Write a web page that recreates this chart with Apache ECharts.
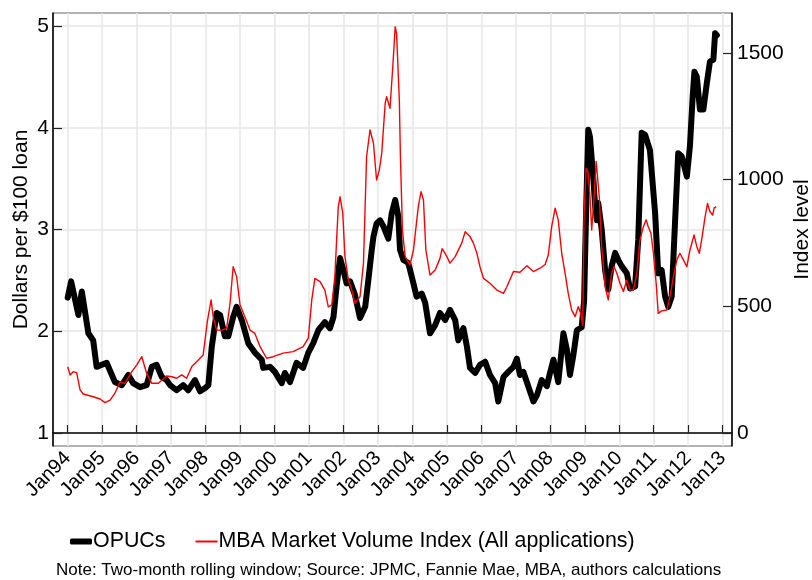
<!DOCTYPE html>
<html><head><meta charset="utf-8">
<script src="https://cdn.jsdelivr.net/npm/echarts@6/dist/echarts.min.js"></script>
<style>html,body{margin:0;padding:0;background:#fff}#c{width:812px;height:580px}</style>
</head><body><div id="c"></div>
<script>
const xTickYears = [1994,1995,1996,1997,1998,1999,2000,2001,2002,2003,2004,2005,2006,2007,2008,2009,2010,2011,2012,2013];
const leftTicks = [1,2,3,4,5];
const rightTicks = [0,500,1000,1500];

const opucsTime = [1994.00,1994.10,1994.31,1994.41,1994.60,1994.74,1994.84,
1995.13,1995.37,1995.57,1995.76,1995.90,
1996.10,1996.29,1996.44,1996.58,1996.73,1996.87,1996.97,
1997.16,1997.35,1997.50,1997.69,1997.84,1997.98,
1998.08,1998.18,1998.32,1998.42,1998.56,1998.66,1998.80,1998.90,
1999.05,1999.24,1999.43,1999.63,1999.67,1999.87,
2000.01,2000.21,2000.30,2000.45,2000.64,2000.83,2000.98,
2001.12,2001.27,2001.46,2001.61,2001.71,2001.80,2001.90,
2002.00,2002.09,2002.19,2002.33,2002.48,2002.63,2002.72,2002.82,2002.87,2002.96,
2003.06,2003.16,2003.30,2003.40,2003.50,2003.59,2003.64,2003.74,2003.88,
2004.03,2004.12,2004.27,2004.37,2004.51,2004.66,2004.80,2004.95,
2005.09,2005.24,2005.33,2005.48,2005.58,2005.67,2005.82,2005.96,
2006.11,2006.25,2006.40,2006.49,2006.64,2006.78,2006.93,
2007.03,2007.12,2007.22,2007.36,2007.51,2007.61,2007.75,2007.90,2007.99,
2008.09,2008.23,2008.38,2008.48,2008.57,2008.67,2008.77,2008.91,2008.98,
2009.04,2009.10,2009.15,2009.25,2009.30,2009.35,2009.39,2009.49,2009.59,2009.68,2009.78,2009.88,2009.97,
2010.07,2010.22,2010.31,2010.46,2010.55,2010.65,2010.75,2010.89,
2011.04,2011.13,2011.23,2011.33,2011.42,2011.52,2011.62,2011.71,2011.81,2011.96,
2012.05,2012.13,2012.18,2012.25,2012.34,2012.44,2012.54,2012.63,2012.73,2012.78,2012.83];
const opucsValue = [2.33,2.49,2.16,2.39,1.98,1.91,1.65,
1.69,1.50,1.47,1.57,1.49,
1.45,1.47,1.65,1.67,1.55,1.52,1.47,
1.42,1.47,1.42,1.52,1.41,1.44,
1.47,1.85,2.18,2.16,1.95,1.95,2.14,2.24,
2.11,1.88,1.79,1.72,1.64,1.65,
1.60,1.49,1.59,1.50,1.69,1.64,1.79,
1.88,2.01,2.09,2.03,2.14,2.44,2.72,
2.60,2.47,2.49,2.36,2.13,2.24,2.50,2.80,2.93,3.06,
3.09,3.03,2.91,3.16,3.29,3.13,2.80,2.70,2.67,
2.47,2.34,2.37,2.28,1.98,2.06,2.18,2.11,
2.21,2.11,1.91,2.03,1.85,1.64,1.59,1.67,
1.70,1.57,1.49,1.31,1.55,1.60,1.65,
1.73,1.57,1.60,1.46,1.31,1.37,1.52,1.46,1.59,
1.72,1.50,1.98,1.82,1.57,1.77,2.01,2.04,2.30,
3.20,3.98,3.91,3.49,3.23,3.09,3.26,3.00,2.60,2.41,2.64,2.77,2.70,
2.64,2.57,2.42,2.44,2.90,3.95,3.93,3.78,
3.16,2.57,2.60,2.34,2.24,2.34,3.09,3.75,3.72,3.52,
3.82,4.31,4.55,4.50,4.18,4.18,4.44,4.65,4.67,4.93,4.91];

const mbaTime = [1994.00,1994.07,1994.16,1994.26,1994.36,1994.45,1994.74,1994.94,
1995.08,1995.23,1995.37,1995.52,1995.66,1995.86,
1996.00,1996.15,1996.29,1996.44,1996.63,1996.87,
1997.02,1997.16,1997.31,1997.45,1997.60,1997.79,1997.93,
1998.05,1998.16,1998.22,1998.32,1998.47,1998.61,1998.71,1998.80,1998.90,
1999.00,1999.14,1999.29,1999.43,1999.58,1999.77,1999.96,
2000.25,2000.54,2000.83,2000.98,
2001.08,2001.17,2001.32,2001.46,2001.56,2001.66,2001.75,2001.80,2001.85,2001.90,2001.98,
2002.04,2002.14,2002.24,2002.33,2002.48,2002.58,2002.67,2002.77,2002.87,2002.96,
2003.04,2003.11,2003.21,2003.25,2003.35,2003.43,2003.50,2003.54,2003.62,2003.65,2003.71,2003.79,2003.93,
2004.03,2004.17,2004.25,2004.32,2004.39,2004.51,2004.66,2004.80,2004.86,2004.95,
2005.09,2005.24,2005.43,2005.53,2005.58,2005.67,2005.77,2005.87,2005.96,
2006.06,2006.25,2006.45,2006.64,2006.74,2006.93,
2007.12,2007.32,2007.51,2007.70,2007.85,2007.94,
2008.04,2008.14,2008.23,2008.33,2008.43,2008.52,2008.62,2008.72,2008.81,2008.88,2008.94,2008.98,
2009.04,2009.10,2009.15,2009.20,2009.27,2009.33,2009.36,2009.42,2009.49,2009.59,2009.68,2009.78,2009.85,2009.93,
2010.02,2010.12,2010.22,2010.31,2010.41,2010.51,2010.60,2010.70,2010.78,2010.84,2010.92,2010.99,
2011.07,2011.13,2011.23,2011.38,2011.47,2011.57,2011.67,2011.76,2011.86,2011.96,
2012.05,2012.17,2012.25,2012.32,2012.39,2012.49,2012.56,2012.63,2012.71,2012.75,2012.81];
const mbaValue = [262,229,242,238,170,154,143,134,
120,130,157,202,196,242,
268,301,236,196,196,225,
222,216,229,216,262,288,308,
439,525,459,406,406,413,512,656,617,
505,459,406,393,341,295,301,
315,321,341,374,
525,610,597,564,498,505,617,760,893,932,867,
700,604,564,512,538,670,1090,1196,1143,998,
1038,1104,1301,1327,1281,1445,1603,1577,1314,1100,800,696,663,
722,893,952,919,722,623,643,689,727,709,
670,696,749,794,801,775,749,709,656,
610,591,564,551,577,637,
634,660,637,650,665,702,
814,887,841,709,630,551,485,459,498,472,425,867,
1045,1025,932,801,932,1071,1077,932,735,577,525,630,656,630,
591,558,604,564,564,630,762,814,841,814,788,709,
591,472,482,485,538,617,683,709,683,656,
722,781,735,709,762,854,906,873,860,887,893];

const FONT = "'Liberation Sans', Arial, Helvetica, sans-serif";
const opucsData = opucsTime.map((t, i) => [t, opucsValue[i]]);
const mbaData = mbaTime.map((t, i) => [t, mbaValue[i]]);

const chart = echarts.init(document.getElementById('c'), null, {renderer: 'canvas'});
chart.setOption({
  animation: false,
  backgroundColor: '#ffffff',
  textStyle: {fontFamily: FONT},
  title: {
    text: 'Note: Two-month rolling window; Source: JPMC, Fannie Mae, MBA, authors calculations',
    left: 56, top: 562, padding: 0,
    textStyle: {fontSize: 17, fontWeight: 'normal', color: '#000', fontFamily: FONT}
  },
  legend: {
    left: 65, top: 526, itemGap: 30, itemWidth: 22, itemHeight: 6,
    textStyle: {fontSize: 21.4, color: '#000', fontFamily: FONT, padding: [0, 0, 0, -4]},
    data: [
      {name: 'OPUCs', icon: 'roundRect', itemStyle: {color: '#000'}},
      {name: 'MBA Market Volume Index (All applications)', icon: 'path://M0,0 H18 V1.6 H0 Z', itemStyle: {color: '#ff0000'}}
    ]
  },
  grid: {left: 53, right: 80, top: 13, bottom: 134, containLabel: false, outerBoundsMode: 'none',
    show: true, borderColor: '#666', borderWidth: 1, backgroundColor: 'transparent'},
  xAxis: {
    type: 'value', min: 1993.574, max: 2013.27,
    axisLine: {lineStyle: {color: '#000', width: 1.5}},
    axisTick: {inside: true, length: 8, lineStyle: {color: '#222', width: 1.2}, customValues: xTickYears},
    axisLabel: {customValues: xTickYears, rotate: 45, margin: 9, fontSize: 20, color: '#000', fontFamily: FONT,
      formatter: v => 'Jan' + String(Math.round(v)).slice(2)},
    splitLine: {show: true, lineStyle: {color: '#e6e6e6', width: 1.5}}
  },
  yAxis: [
    {
      type: 'value', min: 0.872, max: 5.128, position: 'left',
      name: 'Dollars per $100 loan', nameLocation: 'middle', nameGap: 21, nameRotate: 90,
      nameMoveOverlap: false,
      nameTextStyle: {fontSize: 21, color: '#000', fontFamily: FONT},
      axisLine: {show: true, lineStyle: {color: '#000', width: 1.5}},
      axisTick: {show: true, inside: true, length: 9, lineStyle: {color: '#222', width: 1.2}, customValues: leftTicks},
      axisLabel: {customValues: leftTicks, margin: 4, fontSize: 21, color: '#000', fontFamily: FONT,
        formatter: v => String(v)},
      splitLine: {show: true, lineStyle: {color: '#e6e6e6', width: 1.5}}
    },
    {
      type: 'value', min: -51.3, max: 1657, position: 'right',
      name: 'Index level', nameLocation: 'middle', nameGap: 60, nameRotate: 90,
      nameMoveOverlap: false,
      nameTextStyle: {fontSize: 21, color: '#000', fontFamily: FONT},
      axisLine: {show: true, lineStyle: {color: '#000', width: 1.5}},
      axisTick: {show: true, inside: true, length: 9, lineStyle: {color: '#222', width: 1.2}, customValues: rightTicks},
      axisLabel: {customValues: rightTicks, margin: 5, fontSize: 21, color: '#000', fontFamily: FONT,
        formatter: v => String(Math.round(v))},
      splitLine: {show: false}
    }
  ],
  series: [
    {
      name: 'OPUCs', type: 'line', yAxisIndex: 0, data: opucsData,
      showSymbol: false, symbol: 'none', smooth: false,
      lineStyle: {color: '#000', width: 6, cap: 'round', join: 'round'},
      itemStyle: {color: '#000'}, z: 2
    },
    {
      name: 'MBA Market Volume Index (All applications)', type: 'line', yAxisIndex: 1, data: mbaData,
      showSymbol: false, symbol: 'none',
      lineStyle: {color: '#ff0000', width: 1.4, join: 'round'},
      itemStyle: {color: '#ff0000'}, z: 3
    }
  ]
});
</script>
</body></html>
